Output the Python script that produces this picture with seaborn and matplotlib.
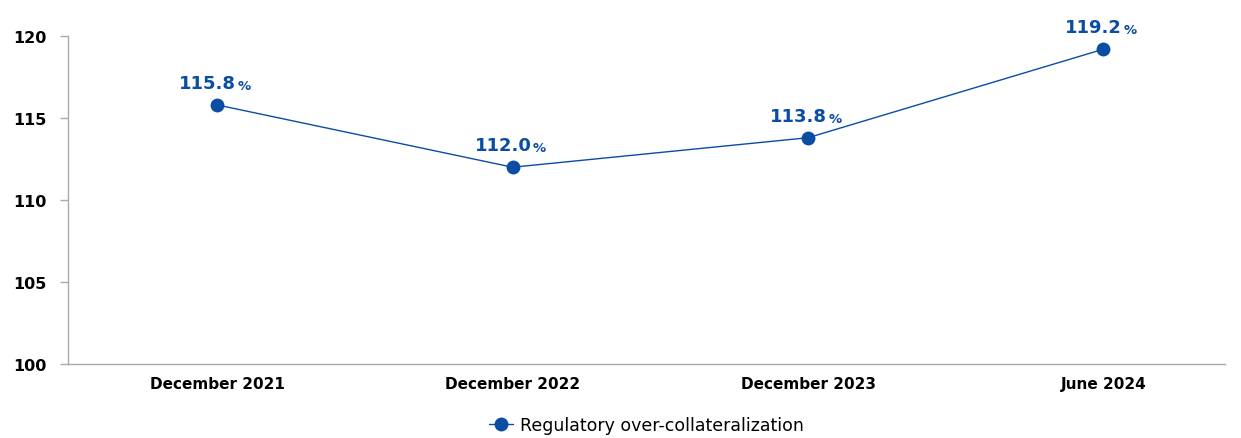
import matplotlib
matplotlib.use("Agg")
import matplotlib.pyplot as plt
import seaborn as sns
import pandas as pd

categories = ["December 2021", "December 2022", "December 2023", "June 2024"]
values = [115.8, 112.0, 113.8, 119.2]
value_labels = ["115.8", "112.0", "113.8", "119.2"]
series_name = "Regulatory over-collateralization"
y_ticks = [100, 105, 110, 115, 120]

BLUE = "#0A4DA3"

sns.set_style("white")
plt.rcParams['font.family'] = ['DejaVu Sans']

df = pd.DataFrame({"cat": categories, "val": values, "series": series_name})
df["x"] = range(len(categories))

fig = plt.figure(figsize=(12.41, 4.39), dpi=100)
ax = fig.add_axes([0.0548, 0.1686, 0.932, 0.747])

sns.lineplot(data=df, x="x", y="val", hue="series", palette=[BLUE], marker="o",
             markersize=10, linewidth=1.0, markeredgewidth=0, ax=ax, legend=True)

ax.set_xlim(-0.505, 3.41)
ax.set_ylim(100, 120)
ax.set_yticks(y_ticks)
ax.set_yticklabels([str(t) for t in y_ticks], fontsize=11.5, fontweight="bold", color="black")
ax.set_xticks(range(len(categories)))
ax.set_xticklabels(categories, fontsize=11, fontweight="bold", color="black")
ax.set_xlabel("")
ax.set_ylabel("")

for s in ["top", "right"]:
    ax.spines[s].set_visible(False)
for s in ["left", "bottom"]:
    ax.spines[s].set_color("#AAAAAA")
    ax.spines[s].set_linewidth(1.0)

ax.tick_params(axis="y", which="both", left=True, length=5.5, color="#AAAAAA", width=1, pad=10)
ax.tick_params(axis="x", which="both", bottom=False, pad=5)

for i, (v, lab) in enumerate(zip(values, value_labels)):
    ax.annotate(lab, xy=(i, v), xytext=(13.5, 9.5), textcoords="offset points",
                ha="right", va="bottom", fontsize=13, fontweight="bold", color=BLUE)
    ax.annotate("%", xy=(i, v), xytext=(14.5, 9.5), textcoords="offset points",
                ha="left", va="bottom", fontsize=9.5, fontweight="bold", color=BLUE)

handles, labels = ax.get_legend_handles_labels()
leg = ax.legend(handles, labels, loc="lower center", bbox_to_anchor=(0.5, -0.262),
                frameon=False, fontsize=12.5, handlelength=1.4, handletextpad=0.4)
for t in leg.get_texts():
    t.set_color("black")

fig.savefig("out.png", dpi=100)
